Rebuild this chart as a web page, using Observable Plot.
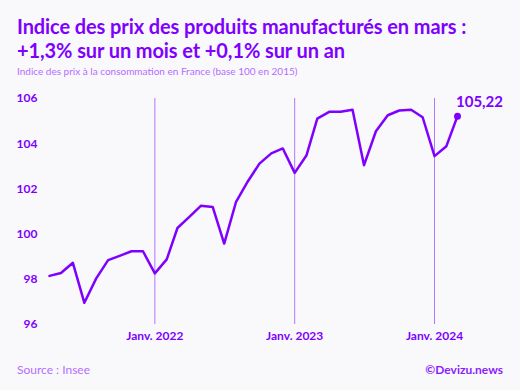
<!DOCTYPE html>
<html>
<head>
<meta charset="utf-8">
<script src="https://cdn.jsdelivr.net/npm/d3@7"></script>
<script src="https://cdn.jsdelivr.net/npm/@observablehq/plot@0.6"></script>
<style>
  html, body { margin: 0; padding: 0; background: #f9f9fb; width: 520px; height: 390px; overflow: hidden; }
  body { font-family: Lato, "Noto Sans", sans-serif; position: relative; }
  #title { position: absolute; left: 17px; top: 14px; font-size: 20px; font-weight: 700; line-height: 24px; color: #7f00ff; letter-spacing: -0.1px; }
  #subtitle { position: absolute; left: 17px; top: 65px; font-size: 10px; color: #b46dff; }
  #chart { position: absolute; left: 0; top: 80px; }
  #source { position: absolute; left: 17px; top: 362px; font-size: 12px; color: #b46dff; }
  #credit { position: absolute; right: 17px; top: 362px; font-size: 12px; font-weight: 700; color: #8a1cff; }
</style>
</head>
<body>
<div id="title">Indice des prix des produits manufacturés en mars :<br>+1,3% sur un mois et +0,1% sur un an</div>
<div id="subtitle">Indice des prix à la consommation en France (base 100 en 2015)</div>
<div id="chart"></div>
<div id="source">Source : Insee</div>
<div id="credit">©Devizu.news</div>
<script>
const months = [
  "2021-04","2021-05","2021-06","2021-07","2021-08","2021-09","2021-10","2021-11","2021-12",
  "2022-01","2022-02","2022-03","2022-04","2022-05","2022-06","2022-07","2022-08","2022-09","2022-10","2022-11","2022-12",
  "2023-01","2023-02","2023-03","2023-04","2023-05","2023-06","2023-07","2023-08","2023-09","2023-10","2023-11","2023-12",
  "2024-01","2024-02","2024-03"
];
const values = [
  98.15, 98.28, 98.73, 96.96, 98.04, 98.85, 99.04, 99.24, 99.24,
  98.26, 98.88, 100.27, 100.76, 101.25, 101.20, 99.58, 101.43, 102.34, 103.12, 103.57, 103.79,
  102.71, 103.49, 105.11, 105.41, 105.41, 105.50, 103.05, 104.55, 105.26, 105.47, 105.50, 105.17,
  103.45, 103.89, 105.22
];
const yTicks = [96, 98, 100, 102, 104, 106];
const yearMarks = ["2022-01", "2023-01", "2024-01"];
const lastLabel = "105,22";

const parse = s => { const [y, m] = s.split("-").map(Number); return new Date(Date.UTC(y, m - 1, 1)); };
const data = months.map((m, i) => ({date: parse(m), value: values[i]}));
const yearDates = yearMarks.map(parse);
const last = data[data.length - 1];

const purple = "#7f00ff";
const chart = Plot.plot({
  width: 520,
  height: 270,
  marginTop: 18,
  marginBottom: 26,
  marginLeft: 49,
  marginRight: 63,
  style: {background: "transparent", fontFamily: "Lato, 'Noto Sans', sans-serif"},
  x: {type: "utc", domain: [data[0].date, last.date], label: null},
  y: {domain: [96, 106], label: null},
  marks: [
    Plot.ruleX(yearDates, {x: d => d, y1: 96, y2: 106, stroke: "#b277ff", strokeWidth: 1}),
    Plot.axisX(yearDates, {tickSize: 0, tickPadding: 7, tickFormat: d => "Janv. " + d.getUTCFullYear(), fill: purple, fontSize: 12, fontWeight: 700}),
    Plot.axisY(yTicks, {tickSize: 0, tickPadding: 12, fill: purple, fontSize: 12, fontWeight: 700}),
    Plot.line(data, {x: "date", y: "value", stroke: purple, strokeWidth: 2.5, strokeLinejoin: "round"}),
    Plot.dot([last], {x: "date", y: "value", r: 3.5, fill: purple}),
    Plot.text([last], {x: "date", y: "value", text: () => lastLabel, dx: 22, dy: -14, fill: purple, fontSize: 15, fontWeight: 700})
  ]
});
document.getElementById("chart").appendChild(chart);
</script>
</body>
</html>
